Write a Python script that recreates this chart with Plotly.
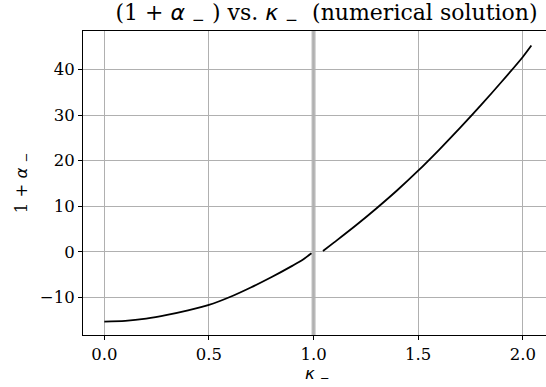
import plotly.graph_objects as go

# left branch (kappa < 1)
kappa_left = [0.0, 0.1, 0.2, 0.3, 0.4, 0.5, 0.6, 0.7, 0.8, 0.9, 0.95, 0.99]
alpha_left = [-15.35, -15.2, -14.7, -13.9, -12.9, -11.7, -9.95, -7.85, -5.55, -3.05, -1.7, -0.35]

# right branch (kappa > 1)
kappa_right = [1.045, 1.1, 1.2, 1.3, 1.4, 1.5, 1.6, 1.7, 1.8, 1.9, 2.0, 2.041]
alpha_right = [0.15, 2.1, 5.7, 9.5, 13.5, 17.8, 22.4, 27.2, 32.2, 37.4, 42.8, 45.3]

xticks = [0.0, 0.5, 1.0, 1.5, 2.0]
yticks = [-10, 0, 10, 20, 30, 40]

serif = "DejaVu Serif"
mathfont = "DejaVu Sans"

fig = go.Figure()
fig.add_trace(go.Scatter(x=kappa_left, y=alpha_left, mode="lines",
                         line=dict(color="black", width=1.8, shape="spline", smoothing=0.8),
                         showlegend=False))
fig.add_trace(go.Scatter(x=kappa_right, y=alpha_right, mode="lines",
                         line=dict(color="black", width=1.8, shape="spline", smoothing=0.8),
                         showlegend=False))

# vertical marker at kappa = 1
fig.add_vline(x=1.0, line=dict(color="rgba(128,128,128,0.55)", width=4), layer="below")

a_m = f"<span style='font-family:{mathfont}'><i>α</i> <sub>−</sub></span>"
k_m = f"<span style='font-family:{mathfont}'><i>κ</i> <sub>−</sub></span>"

fig.update_layout(
    width=546, height=387,
    margin=dict(l=83, r=0, t=31, b=52),
    paper_bgcolor="white", plot_bgcolor="white",
    font=dict(family=serif, size=16.5, color="black"),
    title=dict(text=f"(1 + {a_m} ) vs. {k_m}  (numerical solution)",
               x=0.598, xanchor="center", y=0.967, yanchor="middle",
               font=dict(size=22)),
    xaxis=dict(range=[-0.102, 2.111], tickvals=xticks, ticktext=[f"{v:.1f}" for v in xticks],
               showgrid=True, gridcolor="#b0b0b0", gridwidth=0.9,
               showline=True, linecolor="black", linewidth=1, mirror=True,
               ticks="outside", ticklen=4, tickcolor="black", zeroline=False),
    yaxis=dict(range=[-18.3, 48.5], tickvals=yticks,
               showgrid=True, gridcolor="#b0b0b0", gridwidth=0.9,
               showline=True, linecolor="black", linewidth=1,
               ticks="outside", ticklen=4, tickcolor="black", zeroline=False,
               title=dict(text=f"1 + {a_m}", standoff=8, font=dict(size=16.5))),
)

# x-axis label placed as annotation so it stays inside the frame
fig.add_annotation(text=k_m, xref="paper", yref="paper", x=0.506, y=-0.13,
                   xanchor="center", yanchor="middle", showarrow=False,
                   font=dict(size=16.5))

fig.write_html("out.html", config={"displayModeBar": False},
               post_script="document.body.style.margin='0';document.body.style.overflow='hidden';")
